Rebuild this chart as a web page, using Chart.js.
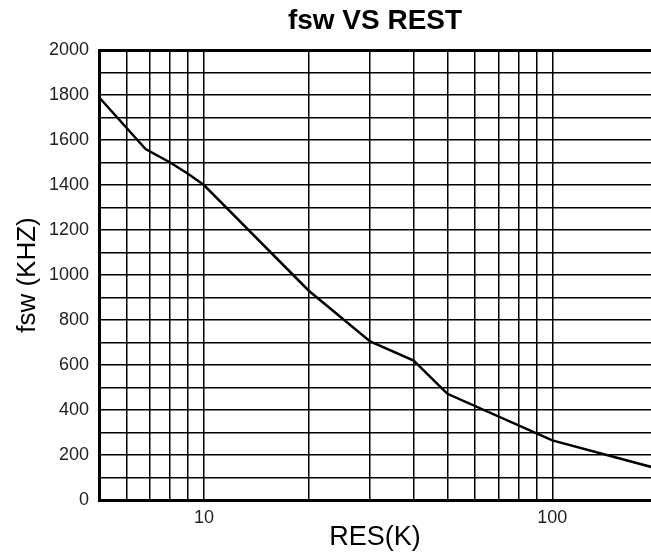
<!DOCTYPE html>
<html>
<head>
<meta charset="utf-8">
<script src="https://cdn.jsdelivr.net/npm/chart.js@4"></script>
<style>
  html, body { margin: 0; padding: 0; background: #fff; }
</style>
</head>
<body>
<canvas id="graphe" width="651" height="559"></canvas>
<script>
// valeurs
const resK = [5, 6.8, 8, 9, 10, 20, 30, 40, 50, 100, 200];
const fswKHz = [1790, 1560, 1500, 1450, 1400, 930, 705, 620, 472, 265, 140];
const xGrid = [5, 6, 7, 8, 9, 10, 20, 30, 40, 50, 60, 70, 80, 90, 100, 200];
const xLabels = [10, 100];

let points = [];
for (let i = 0; i < resK.length; i++)
    points.push({x: resK[i], y: fswKHz[i]});

let ctx = document.getElementById('graphe').getContext('2d');
Chart.defaults.font.family = '"Liberation Sans", Arial, sans-serif';
Chart.defaults.color = '#222';

let myChart = new Chart(ctx, {
    type: 'line',
    data: {
        datasets: [{
            data: points,
            borderColor: '#000',
            borderWidth: 2.5,
            pointRadius: 0,
            tension: 0
        }]
    },
    options: {
        responsive: false,
        animation: false,
        layout: {
            autoPadding: false,
            padding: { left: 12.4, right: 0, top: 2, bottom: 8 }
        },
        plugins: {
            legend: { display: false },
            tooltip: { enabled: false },
            title: {
                display: true,
                fullSize: false,
                text: 'fsw VS REST',
                color: '#000',
                font: { size: 28, weight: 'bold' },
                padding: { top: 2, bottom: 12.4 }
            }
        },
        scales: {
            x: {
                type: 'logarithmic',
                min: 5,
                max: 192,
                afterBuildTicks: function (scale) {
                    scale.ticks = xGrid.map(v => ({value: v}));
                },
                afterFit: function (scale) {
                    // la courbe sort du cadre a droite
                    scale.paddingLeft = 0;
                    scale.paddingRight = 0;
                },
                border: { color: '#000', width: 3 },
                grid: {
                    color: '#000',
                    lineWidth: 1.5,
                    drawTicks: false
                },
                ticks: {
                    autoSkip: false,
                    maxRotation: 0,
                    padding: 9,
                    font: { size: 18, lineHeight: 1 },
                    callback: function (value) {
                        return xLabels.includes(value) ? String(value) : '';
                    }
                },
                title: {
                    display: true,
                    text: 'RES(K)',
                    color: '#000',
                    font: { size: 27, lineHeight: 1 },
                    padding: { top: -12, bottom: 0 }
                }
            },
            y: {
                min: 0,
                max: 2000,
                border: { color: '#000', width: 3 },
                grid: {
                    color: '#000',
                    lineWidth: function (c) {
                        return c.tick && c.tick.value === 2000 ? 3 : 1.5;
                    },
                    drawTicks: false
                },
                ticks: {
                    stepSize: 100,
                    autoSkip: false,
                    padding: 10,
                    font: { size: 18 },
                    callback: function (value) {
                        return value % 200 === 0 ? String(value) : '';
                    }
                },
                title: {
                    display: true,
                    text: 'fsw (KHZ)',
                    color: '#000',
                    font: { size: 26 },
                    padding: { top: 0, bottom: -4.6 }
                }
            }
        }
    }
});
</script>
</body>
</html>
